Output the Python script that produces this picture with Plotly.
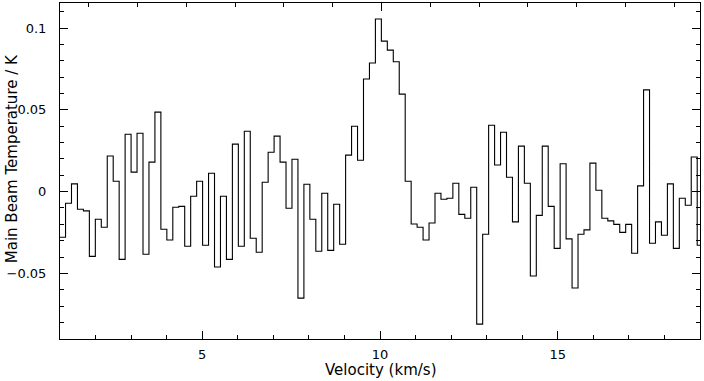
import numpy as np
import plotly.graph_objects as go

# Spectrum: main beam temperature (K) per channel
tmb = [
    -0.0279, -0.0071, 0.0047, -0.0108, -0.0118, -0.0396, -0.0169, -0.0218, 0.0218, 0.0063,
    -0.0414, 0.0351, 0.0119, 0.0357, -0.0383, 0.0180, 0.0486, -0.0230, -0.0296, -0.0096,
    -0.0090, -0.0334, -0.0028, 0.0063, -0.0328, 0.0112, -0.0461, -0.0028, -0.0414, 0.0290,
    -0.0334, 0.0369, -0.0285, -0.0371, 0.0057, 0.0241, 0.0339, 0.0180, -0.0102, 0.0198,
    -0.0651, 0.0045, -0.0169, -0.0365, -0.0010, -0.0359, -0.0077, -0.0322, 0.0223, 0.0400,
    0.0192, 0.0688, 0.0786, 0.1055, 0.0920, 0.0865, 0.0794, 0.0596, 0.0063, -0.0198,
    -0.0218, -0.0296, -0.0192, -0.0010, -0.0047, -0.0041, 0.0051, -0.0139, -0.0163, 0.0027,
    -0.0810, -0.0261, 0.0406, 0.0163, 0.0363, 0.0088, -0.0185, 0.0278, 0.0051, -0.0516,
    -0.0145, 0.0278, -0.0090, -0.0347, 0.0170, -0.0289, -0.0589, -0.0261, -0.0234, 0.0174,
    0.0008, -0.0163, -0.0179, -0.0200, -0.0249, -0.0200, -0.0377, 0.0035, 0.0622, -0.0316,
    -0.0185, -0.0267, 0.0047, -0.0347, -0.0041, -0.0083, 0.0212, -0.0328,
]

# Channel grid (km/s): left edge of first channel and channel width
v_first_edge = 0.988
dv = 0.1676
edges = v_first_edge + dv * np.arange(len(tmb) + 1)
y_steps = tmb + [tmb[-1]]

x_range = [1.0, 19.0]
y_range = [-0.0901, 0.1153]

# Top axis (frequency-like, unlabeled): tick spacing in km/s and reference tick
top_step = 1.3731
top_ref = 10.042
top_range = [(x_range[0] - top_ref) / top_step, (x_range[1] - top_ref) / top_step]

x_title = "Velocity (km/s)"
y_title = "Main Beam Temperature / K"

font_family = "DejaVu Sans"

fig = go.Figure()
fig.add_trace(go.Scatter(
    x=edges, y=y_steps, mode="lines", line=dict(shape="hv", color="black", width=1.1),
    showlegend=False, hoverinfo="skip",
))
# empty trace so that the top axis is drawn
fig.add_trace(go.Scatter(
    x=top_range, y=[None, None], xaxis="x2", yaxis="y", mode="lines",
    showlegend=False, hoverinfo="skip",
))

fig.update_layout(
    width=704, height=381,
    margin=dict(l=60, r=4, t=3, b=42),
    paper_bgcolor="white", plot_bgcolor="white",
    font=dict(family=font_family, size=13, color="black"),
    xaxis=dict(
        range=x_range, showgrid=False, zeroline=False, automargin=False,
        showline=True, linecolor="black", linewidth=1, mirror=False,
        ticks="inside", ticklen=8, tickcolor="black", tickwidth=1,
        tick0=0, dtick=5,
        minor=dict(dtick=1, ticks="inside", ticklen=4, tickcolor="black", showgrid=False),
        ticklabelstandoff=3,
    ),
    xaxis2=dict(
        overlaying="x", side="top", anchor="y", range=top_range, automargin=False,
        showgrid=False, zeroline=False, showticklabels=False,
        showline=True, linecolor="black", linewidth=1,
        ticks="inside", ticklen=8, tickcolor="black", tick0=0, dtick=10,
        minor=dict(dtick=1, ticks="inside", ticklen=4, tickcolor="black", showgrid=False),
    ),
    yaxis=dict(
        range=y_range, showgrid=False, zeroline=False, automargin=False,
        showline=True, linecolor="black", linewidth=1, mirror="ticks",
        ticks="inside", ticklen=8, tickcolor="black", tickwidth=1,
        tick0=0, dtick=0.05,
        minor=dict(dtick=0.01, ticks="inside", ticklen=4, tickcolor="black", showgrid=False),
        ticklabelstandoff=10,
    ),
    annotations=[
        dict(text=x_title, xref="paper", yref="paper", x=0.5, y=-0.092,
             xanchor="center", yanchor="middle", showarrow=False, font=dict(size=15)),
        dict(text=y_title, xref="paper", yref="paper", x=-0.075, y=0.535,
             xanchor="center", yanchor="middle", textangle=-90, showarrow=False,
             font=dict(size=15)),
    ],
)

fig.write_html("out.html", config={"displayModeBar": False},
               post_script="document.body.style.margin='0';")
